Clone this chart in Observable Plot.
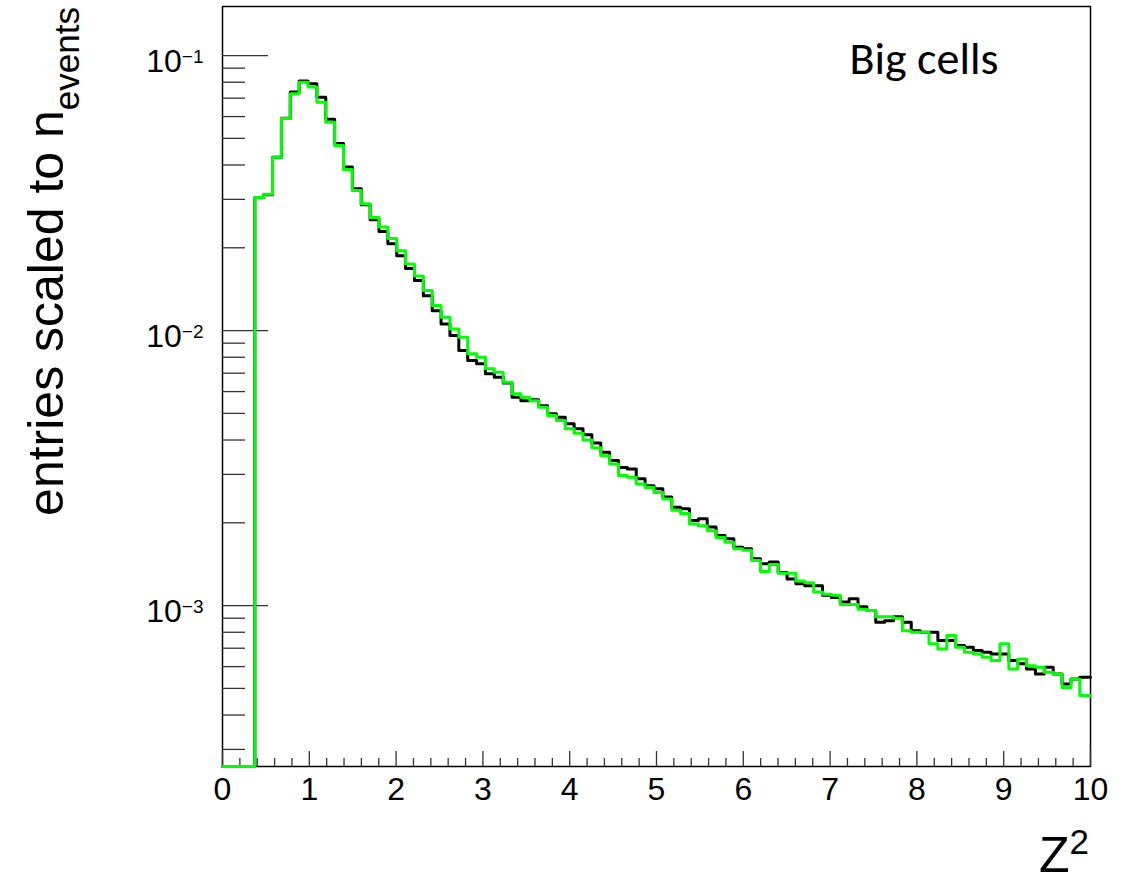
<!DOCTYPE html>
<html><head><meta charset="utf-8">
<script src="https://cdn.jsdelivr.net/npm/d3@7"></script>
<script src="https://cdn.jsdelivr.net/npm/@observablehq/plot@0.6"></script>
<style>
html,body{margin:0;padding:0;background:#fff;}
#chart svg{display:block;}
</style></head><body><div id="chart"></div>
<script>
// ---- data ----
const binStart = 0.372;   // lower edge of first filled bin
const binWidth = 0.1022;  // histogram bin width in Z^2
const blackCounts = [0.0305, 0.0312, 0.0427, 0.0592, 0.0737, 0.0808, 0.0789, 0.0705, 0.0587, 0.0479,
 0.0393, 0.0328, 0.0287, 0.0253, 0.0229, 0.0207, 0.0187, 0.0168, 0.0152, 0.0134,
 0.0118, 0.01057, 0.00959, 0.00846, 0.00778, 0.00757, 0.00696, 0.00676, 0.00645, 0.00572,
 0.00556, 0.0056, 0.00533, 0.00498, 0.00484, 0.00458, 0.0044, 0.00418, 0.0039, 0.00361,
 0.00337, 0.00318, 0.00314, 0.00289, 0.00273, 0.00266, 0.00248, 0.00228, 0.00225, 0.00204,
 0.00207, 0.00193, 0.0018, 0.00175, 0.00163, 0.00161, 0.00148, 0.00142, 0.00144, 0.00132,
 0.00125, 0.0012, 0.00118, 0.00118, 0.00109, 0.00107, 0.00103, 0.00106, 0.00099, 0.00096,
 0.00087, 0.00088, 0.00091, 0.00087, 0.00081, 0.0008, 0.0008, 0.000746, 0.000746, 0.000716,
 0.000706, 0.000686, 0.000677, 0.000667, 0.000667, 0.000631, 0.000614, 0.000588, 0.000564, 0.000597,
 0.000564, 0.000519, 0.000541, 0.000549, 0.000549];
const greenCounts = [0.0305, 0.0313, 0.0427, 0.059, 0.0726, 0.08, 0.0769, 0.0676, 0.0572, 0.0471,
 0.0385, 0.0323, 0.0289, 0.0258, 0.0238, 0.0216, 0.0195, 0.01748, 0.0158, 0.01398,
 0.01233, 0.01118, 0.01014, 0.00946, 0.00823, 0.008, 0.00726, 0.00706, 0.00649, 0.00589,
 0.00572, 0.00556, 0.00526, 0.00491, 0.00471, 0.0044, 0.00423, 0.004, 0.00375, 0.00351,
 0.00327, 0.00297, 0.00293, 0.00277, 0.00269, 0.00258, 0.00244, 0.00222, 0.00216, 0.00198,
 0.00195, 0.00187, 0.00177, 0.0017, 0.00161, 0.00159, 0.00146, 0.00133, 0.00141, 0.00131,
 0.00131, 0.00123, 0.00121, 0.00112, 0.0011, 0.00109, 0.00101, 0.00101, 0.00097, 0.00096,
 0.00091, 0.00091, 0.0009, 0.00081, 0.0008, 0.0008, 0.000726, 0.000696, 0.000778, 0.000706,
 0.000677, 0.000667, 0.000649, 0.000631, 0.000726, 0.000588, 0.00064, 0.000605, 0.000597, 0.000572,
 0.000564, 0.000504, 0.000541, 0.000471, 0.000471];
const xTicks = [0, 1, 2, 3, 4, 5, 6, 7, 8, 9, 10];
const xMinorTicks = d3.range(1, 50).map(i => i / 5).filter(v => Math.abs(v - Math.round(v)) > 1e-6);
const yMajorTicks = [1e-3, 1e-2, 1e-1];
const yMinorTicks = [3e-4, 4e-4, 5e-4, 6e-4, 7e-4, 8e-4, 9e-4,
  2e-3, 3e-3, 4e-3, 5e-3, 6e-3, 7e-3, 8e-3, 9e-3,
  2e-2, 3e-2, 4e-2, 5e-2, 6e-2, 7e-2, 8e-2, 9e-2];
const xDomain = [0, 10];
const yDomain = [2.6e-4, 0.1508];
const annotation = "Big cells";

// ---- layout ----
const W = 1132, H = 882;
const mL = 222, mR = 42, mT = 6, mB = 116;
const innerW = W - mL - mR, innerH = H - mT - mB;

function steps(counts) {
  const pts = [{x: xDomain[0], v: 0}];
  counts.forEach((v, i) => pts.push({x: binStart + i * binWidth, v}));
  pts.push({x: binStart + counts.length * binWidth, v: counts[counts.length - 1]});
  return pts;
}
const yv = d => Math.max(d.v, yDomain[0]);

const plot = Plot.plot({
  width: W, height: H,
  marginLeft: mL, marginRight: mR, marginTop: mT, marginBottom: mB,
  x: {domain: xDomain, clamp: true, axis: null},
  y: {type: "log", domain: yDomain, axis: null},
  style: {fontFamily: "'Liberation Sans', Arial, Helvetica, sans-serif", fontSize: "32px", background: "#fff", color: "#000"},
  marks: [
    Plot.frame({stroke: "#000", strokeWidth: 1.5}),
    Plot.tickY(yMinorTicks, {y: d => d, insetRight: innerW - 23, stroke: "#333", strokeWidth: 1.3}),
    Plot.tickY(yMajorTicks, {y: d => d, insetRight: innerW - 46, stroke: "#333", strokeWidth: 1.3}),
    Plot.tickX(xMinorTicks, {x: d => d, insetTop: innerH - 8, stroke: "#333", strokeWidth: 1.3}),
    Plot.tickX(xTicks, {x: d => d, insetTop: innerH - 15, stroke: "#333", strokeWidth: 1.3}),
    Plot.axisX(xTicks, {tickSize: 0, tickPadding: 11, fontSize: 32, label: null}),
    Plot.axisY(yMajorTicks, {tickSize: 0, tickPadding: 19, fontSize: 32, dy: 6, label: null,
      tickFormat: d => "10^" + Math.round(Math.log10(d))}),
    Plot.line(steps(blackCounts), {x: "x", y: yv, curve: "step-after", stroke: "#000", strokeWidth: 3}),
    Plot.line(steps(greenCounts), {x: "x", y: yv, curve: "step-after", stroke: "#00ff00", strokeWidth: 3}),
    Plot.text([annotation], {frameAnchor: "top-right", textAnchor: "end", lineAnchor: "top",
      dx: -92, dy: 35, fontSize: 46, fontFamily: "Carlito, Lato, sans-serif", fill: "#000"})
  ]
});

const svg = d3.select(plot);
// superscript exponents on the y tick labels
svg.selectAll('g[aria-label="y-axis tick label"] text').each(function () {
  const m = this.textContent.match(/^10\^(-?\d+)$/);
  if (!m) return;
  const t = d3.select(this);
  t.text(null);
  t.append("tspan").text("10");
  t.append("tspan").attr("dy", -9).attr("font-size", 19).text(m[1].replace("-", "\u2212"));
});

const xs = plot.scale("x"), ys = plot.scale("y");
const frameLeft = xs.range[0], frameRight = xs.range[1], frameTop = Math.min(...ys.range);

// y title: entries scaled to n_events
const yt = svg.append("text")
  .attr("transform", `translate(${frameLeft - 159},${frameTop + 1}) rotate(-90)`)
  .attr("text-anchor", "end")
  .attr("font-size", 50)
  .attr("fill", "#000");
yt.append("tspan").text("entries scaled to n");
yt.append("tspan").attr("dy", 16).attr("font-size", 35).text("events");

// x title: Z^2
const xt = svg.append("text")
  .attr("x", frameRight - 1).attr("y", H - 10)
  .attr("text-anchor", "end")
  .attr("font-size", 50)
  .attr("fill", "#000");
xt.append("tspan").text("Z");
xt.append("tspan").attr("dy", -18).attr("font-size", 35).text("2");

document.getElementById("chart").appendChild(plot);
</script></body></html>
